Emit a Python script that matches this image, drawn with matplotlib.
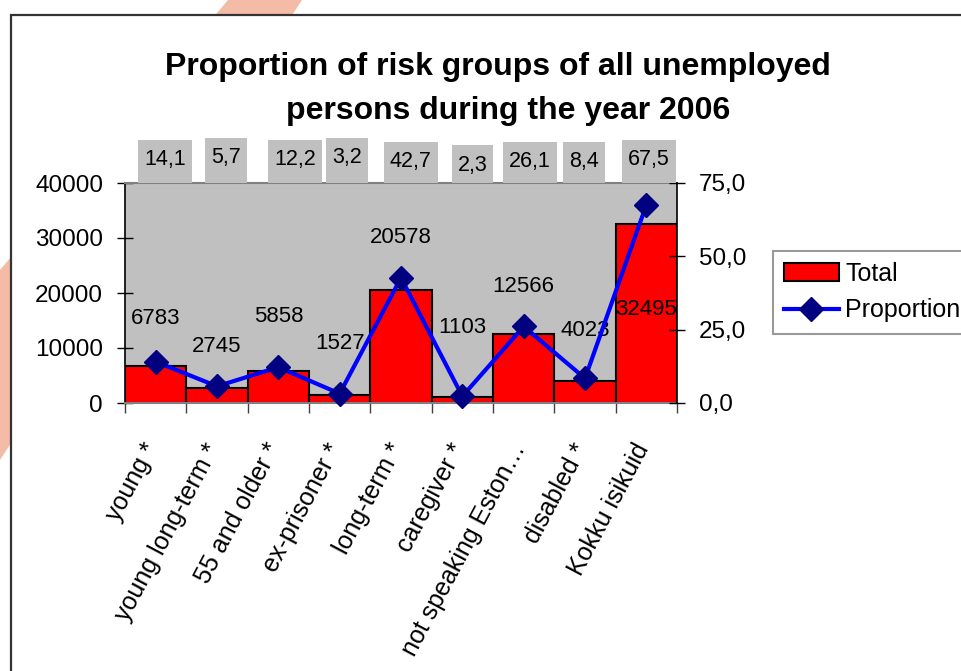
import matplotlib
matplotlib.use('Agg')
import matplotlib.pyplot as plt
from matplotlib.patches import Rectangle, Patch, Polygon
from matplotlib.lines import Line2D

# ---------------- data ----------------
categories = ['young *', 'young long-term *', '55 and older *', 'ex-prisoner *',
              'long-term *', 'caregiver *', 'not speaking Eston\u2026', 'disabled *',
              'Kokku isikuid']
totals = [6783, 2745, 5858, 1527, 20578, 1103, 12566, 4023, 32495]
proportions = [14.1, 5.7, 12.2, 3.2, 42.7, 2.3, 26.1, 8.4, 67.5]
left_ticks = [0, 10000, 20000, 30000, 40000]
right_ticks = [0, 25, 50, 75]
title_lines = ['Proportion of risk groups of all unemployed',
               'persons during the year 2006']
legend_labels = ['Total', 'Proportion']

# ---------------- layout (label placement, not data) ----------------
total_label_y = [15450, 10360, 15640, 10730, 30180, 13640, 21270, 13270, 17090]
prop_label_dx_px = [9.6, 8.8, 17, 7.1, 9.9, 10.1, 6.4, -1, 2.6]
prop_label_dy_px = [23, 25.3, 23, 25, 21, 18, 21, 21, 23]

W, H = 962, 671
plt.rcParams['font.family'] = ['Liberation Sans', 'DejaVu Sans']

fig = plt.figure(figsize=(W / 100, H / 100), dpi=100)
fig.patch.set_facecolor('white')


def fx(px):
    return px / W


def fy(py):
    return 1 - py / H


# watermark stroke (visible only outside the chart frame)
fig.patches.append(Polygon([(fx(228), fy(0)), (fx(302), fy(0)), (fx(0), fy(460)), (fx(0), fy(270))],
                           closed=True, transform=fig.transFigure, facecolor='#F4BBA6',
                           edgecolor='none', zorder=-3))
# chart frame
fig.patches.append(Rectangle((fx(11), fy(680)), fx(980) - fx(11), fy(15) - fy(680),
                             transform=fig.transFigure, facecolor='white',
                             edgecolor='#333333', linewidth=1.6, zorder=-2))

ax_left, ax_right, ax_top, ax_bottom = 125, 677, 183, 403
ax = fig.add_axes([fx(ax_left), fy(ax_bottom), fx(ax_right) - fx(ax_left), fy(ax_top) - fy(ax_bottom)])
ax.set_facecolor('#C0C0C0')
x = list(range(len(categories)))
ax.bar(x, totals, width=1.0, color='#FF0000', edgecolor='black', linewidth=1.5, zorder=2)
ax.set_xlim(-0.5, len(categories) - 0.5)
ax.set_ylim(0, 40000)
ax.set_yticks(left_ticks)
ax.set_yticklabels([str(v) for v in left_ticks])
ax.tick_params(axis='y', direction='inout', length=11.5, width=1.0, labelsize=17.5, pad=10, color='black')
ax.set_xticks([i - 0.5 for i in range(len(categories) + 1)])
ax.set_xticklabels([])
ax.tick_params(axis='x', direction='out', length=7, width=1.0, color='#404040')
for s in ['top', 'bottom']:
    ax.spines[s].set_color('#808080')
    ax.spines[s].set_linewidth(1.5)
ax.spines['left'].set_color('black')
ax.spines['left'].set_linewidth(1.2)
ax.spines['right'].set_visible(False)

for i, (v, ly) in enumerate(zip(totals, total_label_y)):
    ax.text(i, ly, str(v), ha='center', va='center', fontsize=16, color='black', zorder=3)

for i, lab in enumerate(categories):
    ax.annotate(lab, xy=(i, 0), xycoords=('data', 'axes fraction'),
                xytext=(-10, -26), textcoords='offset points',
                rotation=62, rotation_mode='anchor', ha='right', va='top',
                fontsize=18, color='black', annotation_clip=False)

ax2 = ax.twinx()
ax2.set_ylim(0, 75)
ax2.set_yticks(right_ticks)
ax2.set_yticklabels([f'{v:.1f}'.replace('.', ',') for v in right_ticks])
ax2.tick_params(axis='y', direction='inout', length=11.5, width=1.0, labelsize=17.5, pad=10, color='black')
for s in ['top', 'bottom', 'left']:
    ax2.spines[s].set_visible(False)
ax2.spines['right'].set_color('black')
ax2.spines['right'].set_linewidth(1.2)
ax2.plot(x, proportions, color='#0000FF', linewidth=3, marker='D', markersize=12,
         markerfacecolor='#000080', markeredgecolor='#000080', zorder=4, clip_on=False)

# proportion labels above the plot area with grey boxes
fig.canvas.draw()
renderer = fig.canvas.get_renderer()
top_disp = ax.transAxes.transform((0, 1))[1]
for i, p in enumerate(proportions):
    cx = ax.transData.transform((i, 0))[0] + prop_label_dx_px[i]
    cy = top_disp + prop_label_dy_px[i]
    t = fig.text(cx / W, cy / H, f'{p:.1f}'.replace('.', ','), ha='center', va='center',
                 fontsize=15.5, color='black', zorder=5)
    bb = t.get_window_extent(renderer)
    x0 = bb.x0 - 6
    x1 = bb.x1 + 6
    ytop = cy + 20
    fig.patches.append(Rectangle((x0 / W, top_disp / H), (x1 - x0) / W, (ytop - top_disp) / H,
                                 transform=fig.transFigure, facecolor='#C0C0C0',
                                 edgecolor='none', zorder=1))

# title
fig.text(fx(498), fy(74.6), title_lines[0], ha='center', va='baseline', fontsize=23,
         fontweight='bold')
fig.text(fx(508), fy(119.3), title_lines[1], ha='center', va='baseline', fontsize=23,
         fontweight='bold')

# legend
handles = [Patch(facecolor='#FF0000', edgecolor='black', linewidth=1.5),
           Line2D([0], [0], color='#0000FF', linewidth=3, marker='D', markersize=12,
                  markerfacecolor='#000080', markeredgecolor='#000080')]
leg = fig.legend(handles, legend_labels, loc='upper left', bbox_to_anchor=(fx(772.7), fy(250.7)),
                 fontsize=18, frameon=True, fancybox=False, shadow=False, borderaxespad=0,
                 handlelength=2.2, handletextpad=0.25, labelspacing=0.5, borderpad=0.45)
leg.get_frame().set_edgecolor('#808080')
leg.get_frame().set_linewidth(1.5)
leg.set_zorder(6)

fig.savefig('out.png', dpi=100, facecolor='white')
